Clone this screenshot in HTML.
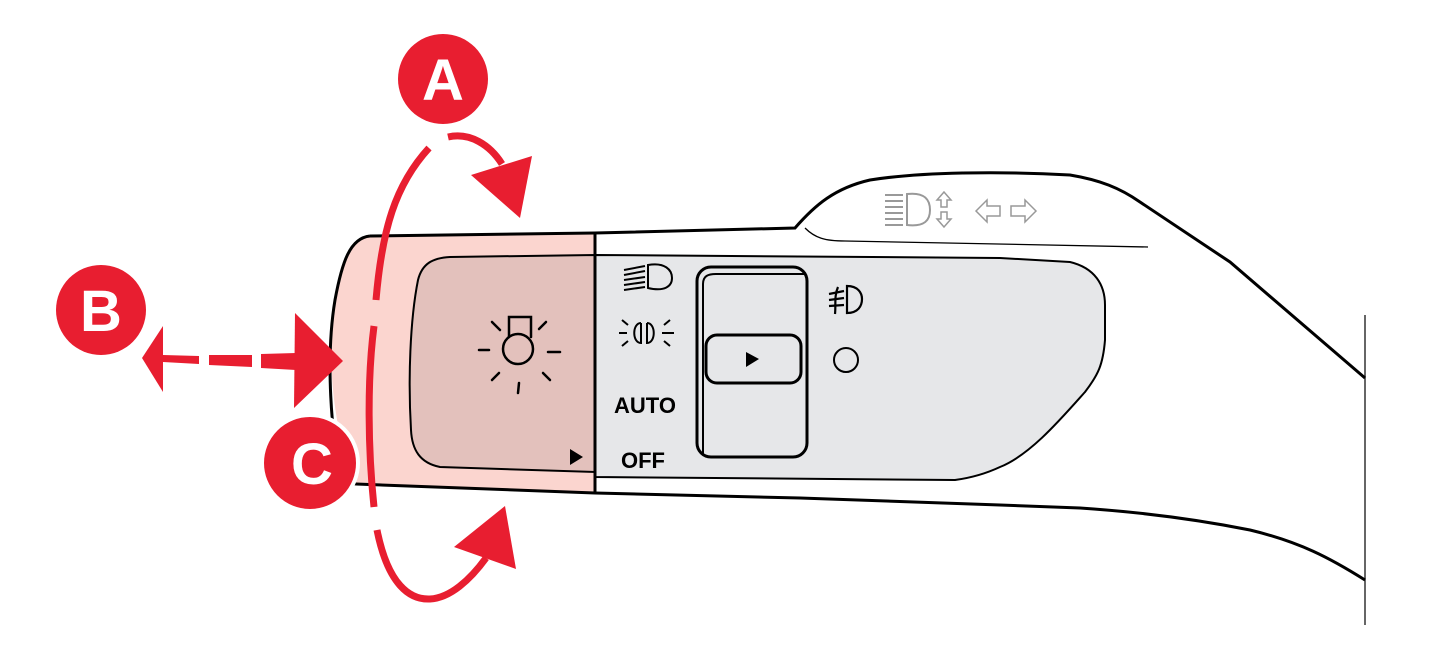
<!DOCTYPE html>
<html><head><meta charset="utf-8"><style>html,body{margin:0;padding:0;background:#fff}svg{display:block}</style></head>
<body>
<svg width="1443" height="669" viewBox="0 0 1443 669" xmlns="http://www.w3.org/2000/svg">
<!-- right vertical line -->
<line x1="1365" y1="315" x2="1365" y2="625" stroke="#333" stroke-width="1.5"/>
<!-- pink cap -->
<path d="M370,236 L595,233 L595,493 L356,484 C335,440 325,360 335,300 C342,262 350,238 370,236 Z" fill="#fbd5cf"/>
<!-- inner darker panel -->
<path d="M450,257 L595,255 L595,472 L440,467 C420,463 412,450 411,430 C408,380 410,320 418,280 C422,264 432,258 450,257 Z" fill="#e3c1bc" stroke="#000" stroke-width="2"/>
<!-- gray panel -->
<path d="M595,255 L1000,258 L1070,262 C1095,268 1105,285 1105,305 L1105,340 C1103,365 1098,375 1085,392 C1060,420 1030,455 1000,467 C985,474 970,478 955,480 L595,477 Z" fill="#e6e7e9" stroke="#000" stroke-width="2"/>
<!-- outer outline -->
<path d="M370,236 L595,233 L795,228 C815,205 835,188 870,180 C920,172 1000,171 1070,175 C1100,180 1120,188 1140,202 L1230,262 L1365,378" fill="none" stroke="#000" stroke-width="3"/>
<path d="M370,236 C350,238 342,262 335,300 C325,360 332,440 340,470 C345,480 350,484 356,484 L595,493 L800,498 L1000,505 L1080,508 C1140,512 1200,520 1250,530 C1300,542 1330,558 1365,580" fill="none" stroke="#000" stroke-width="3"/>
<line x1="595" y1="233" x2="595" y2="494" stroke="#000" stroke-width="3"/>
<path d="M805,228 C815,238 825,241 845,241 L1148,247" fill="none" stroke="#000" stroke-width="1.3"/>
<!-- light icon -->
<g stroke="#000" stroke-width="2.5" fill="none" stroke-linecap="round">
<circle cx="518" cy="349" r="15"/>
<path d="M509,337 L509,317 L531,317 L531,337"/>
<line x1="479" y1="350" x2="489" y2="350"/><line x1="548" y1="352" x2="560" y2="352"/>
<line x1="492" y1="322" x2="500" y2="330"/><line x1="546" y1="322" x2="539" y2="329"/>
<line x1="492" y1="380" x2="499" y2="373"/><line x1="543" y1="373" x2="550" y2="380"/>
<line x1="519" y1="383" x2="518" y2="393"/>
</g>
<polygon points="570,449 570,465 583,457" fill="#000"/>
<!-- high beam icon -->
<g stroke="#000" stroke-width="2" fill="none">
<path d="M648,265 C665,262 672,270 672,278 C672,286 665,292 648,288 Z"/>
<line x1="624" y1="270" x2="645" y2="266"/><line x1="624" y1="275" x2="645" y2="271"/><line x1="624" y1="280" x2="645" y2="277"/><line x1="624" y1="285" x2="645" y2="282"/><line x1="624" y1="290" x2="645" y2="287"/>
</g>
<!-- position lamps -->
<g stroke="#000" stroke-width="2" fill="none">
<path d="M641,323 C632,323 632,343 641,343 L641,323"/>
<path d="M647,323 C656,323 656,343 647,343 L647,323"/>
<line x1="619" y1="333" x2="627" y2="333"/><line x1="662" y1="333" x2="674" y2="333"/>
<line x1="622" y1="320" x2="628" y2="325"/><line x1="622" y1="346" x2="628" y2="341"/>
<line x1="670" y1="320" x2="664" y2="325"/><line x1="670" y1="346" x2="664" y2="341"/>
</g>
<text x="614" y="413" font-family="Liberation Sans, sans-serif" font-weight="bold" font-size="22">AUTO</text>
<text x="621" y="468" font-family="Liberation Sans, sans-serif" font-weight="bold" font-size="22">OFF</text>
<!-- switch -->
<rect x="697" y="267" width="110" height="190" rx="14" fill="#e6e7e9" stroke="#000" stroke-width="3"/>
<path d="M703,455 L703,284 C703,276 708,274 716,274 L805,274" fill="none" stroke="#000" stroke-width="2"/>
<rect x="706" y="335" width="95" height="48" rx="11" fill="#e6e7e9" stroke="#000" stroke-width="3"/>
<polygon points="746,352 746,367 759,359" fill="#000"/>
<!-- fog icon -->
<g stroke="#000" stroke-width="2.2" fill="none">
<path d="M847,286 C858,286 862,293 862,299 C862,306 858,313 847,313 Z"/>
<line x1="829" y1="294" x2="844" y2="291"/><line x1="829" y1="300" x2="844" y2="298"/><line x1="829" y1="306" x2="844" y2="305"/>
<path d="M838,287 C834,296 836,305 835,314"/>
</g>
<circle cx="846" cy="360" r="12" fill="none" stroke="#000" stroke-width="2"/>
<!-- gray top icons -->
<g stroke="#999" stroke-width="2" fill="none">
<path d="M907,194 C925,192 930,200 930,210 C930,220 925,227 907,225 Z"/>
<line x1="885" y1="195" x2="903" y2="195"/><line x1="885" y1="201" x2="903" y2="201"/><line x1="885" y1="207" x2="903" y2="207"/><line x1="885" y1="213" x2="903" y2="213"/><line x1="885" y1="219" x2="903" y2="219"/><line x1="885" y1="225" x2="903" y2="225"/>
<path d="M944,192 L937,200 L941,200 L941,207 L947,207 L947,200 L951,200 Z" stroke-width="1.5"/>
<path d="M944,227 L937,219 L941,219 L941,212 L947,212 L947,219 L951,219 Z" stroke-width="1.5"/>
<path d="M976,211 L987,200 L987,206 L1000,206 L1000,216 L987,216 L987,222 Z" stroke-width="1.5"/>
<path d="M1036,211 L1025,200 L1025,206 L1011,206 L1011,216 L1025,216 L1025,222 Z" stroke-width="1.5"/>
</g>
<!-- red arcs -->
<g fill="none" stroke="#e81e30" stroke-width="7">
<path d="M429,148 C395,185 382,230 376,300"/>
<path d="M374,326 C367,380 368,450 374,507"/>
<path d="M377,530 C388,585 410,600 430,599 C450,598 470,580 486,558"/>
<path d="M448,137 C470,132 490,145 502,164"/>
</g>
<polygon points="471,175 532,156 520,218" fill="#e81e30"/>
<polygon points="454,547 505,506 516,569" fill="#e81e30"/>
<!-- B arrow -->
<polygon points="142,358 163,326 163,392" fill="#e81e30"/>
<polygon points="163,355 199,356 199,364 163,362" fill="#e81e30"/>
<polygon points="209,355 252,355 252,367 209,365" fill="#e81e30"/>
<polygon points="261,354 296,353 296,370 261,368" fill="#e81e30"/>
<polygon points="295,313 343,361 294,408" fill="#e81e30"/>
<!-- circles -->
<circle cx="443" cy="79" r="45" fill="#e81e30"/>
<text x="443" y="100" text-anchor="middle" font-family="Liberation Sans, sans-serif" font-weight="bold" font-size="58" fill="#fff">A</text>
<circle cx="101" cy="310" r="45" fill="#e81e30"/>
<text x="101" y="331" text-anchor="middle" font-family="Liberation Sans, sans-serif" font-weight="bold" font-size="58" fill="#fff">B</text>
<circle cx="310" cy="463" r="48" fill="#e81e30" stroke="#fff" stroke-width="4"/>
<text x="312" y="484" text-anchor="middle" font-family="Liberation Sans, sans-serif" font-weight="bold" font-size="58" fill="#fff">C</text>
</svg>
</body></html>
